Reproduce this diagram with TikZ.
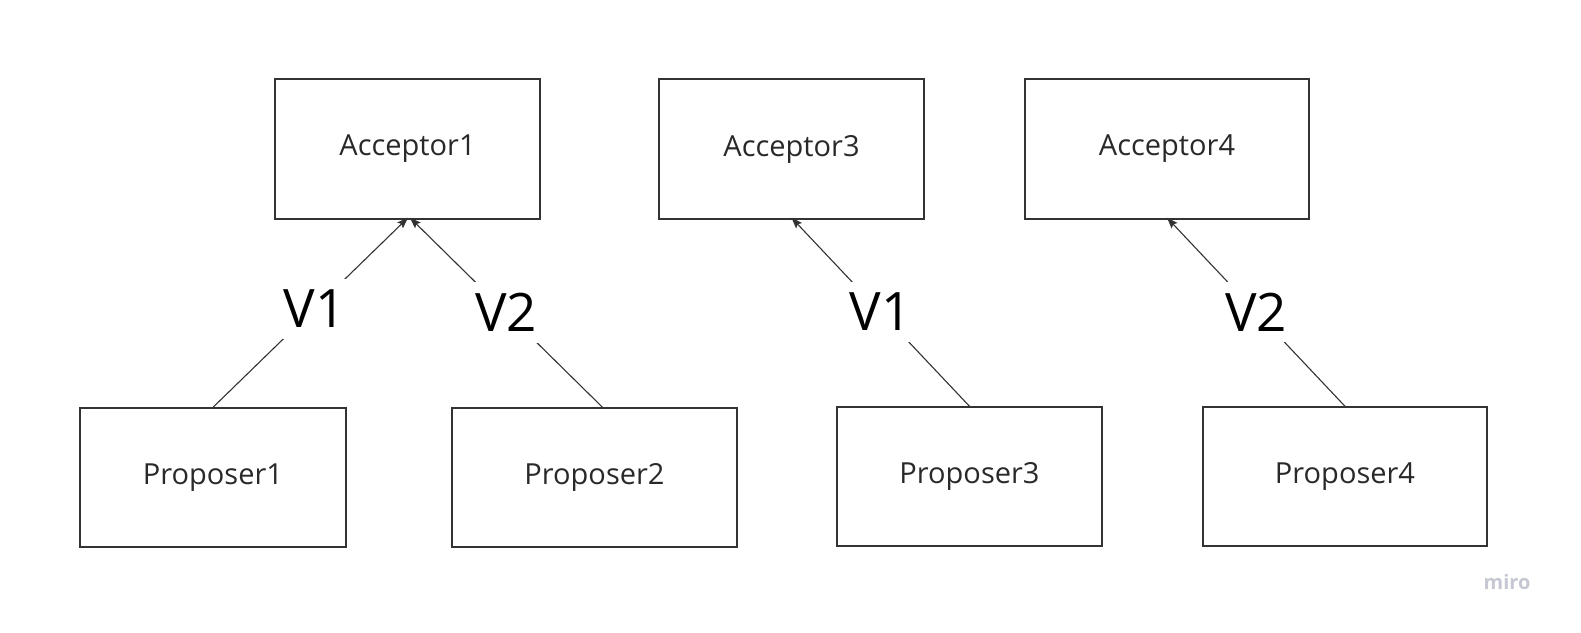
\documentclass[tikz,border=0pt]{standalone}
\usepackage{fontspec}
\setmainfont{Open Sans}
\usetikzlibrary{arrows.meta}
\definecolor{ink}{HTML}{333333}
\definecolor{wm}{HTML}{C5C8D2}
\tikzset{
  box/.style={draw=ink, line width=1.4pt, fill=white, inner sep=0pt,
    font=\fontsize{29}{34}\selectfont, text=ink!80!black},
  vlabel/.style={fill=white, inner sep=11pt, font=\fontsize{53}{58}\selectfont, text=black},
  conn/.style={draw=ink, line width=1.1pt, -{Stealth[length=11pt,width=8pt,inset=2pt]}}
}
\begin{document}
\begin{tikzpicture}[x=1pt,y=-1pt]
\useasboundingbox (0,0) rectangle (1581,632);
\fill[white] (0,0) rectangle (1581,632);
% acceptors
\node[box, minimum width=265pt, minimum height=140pt] (a1) at (407.5,149) {Acceptor1};
\node[box, minimum width=265pt, minimum height=140pt] (a3) at (791.5,149) {Acceptor3};
\node[box, minimum width=284pt, minimum height=140pt] (a4) at (1167,149) {Acceptor4};
% proposers
\node[box, minimum width=266pt, minimum height=139pt] (p1) at (213,477.5) {Proposer1};
\node[box, minimum width=285pt, minimum height=139pt] (p2) at (594.5,477.5) {Proposer2};
\node[box, minimum width=265pt, minimum height=139pt] (p3) at (969.5,476.5) {Proposer3};
\node[box, minimum width=284pt, minimum height=139pt] (p4) at (1345,476.5) {Proposer4};
% connectors
\draw[conn] (p1.north) -- node[vlabel, pos=0.52] (v1a) {V1} ([xshift=0.5pt,yshift=2pt]a1.south);
\draw[conn] ([xshift=8pt]p2.north) -- node[vlabel, pos=0.5] (v2a) {V2} ([xshift=2.5pt,yshift=2pt]a1.south);
\draw[conn] (p3.north) -- node[vlabel, pos=0.5] (v1b) {V1} ([yshift=2pt]a3.south);
\draw[conn] (p4.north) -- node[vlabel, pos=0.5] (v2b) {V2} ([yshift=2pt]a4.south);
% watermark
\node[font=\fontsize{20}{24}\selectfont\bfseries, text=wm] (wm) at (1507,582) {miro};
\end{tikzpicture}
\end{document}
